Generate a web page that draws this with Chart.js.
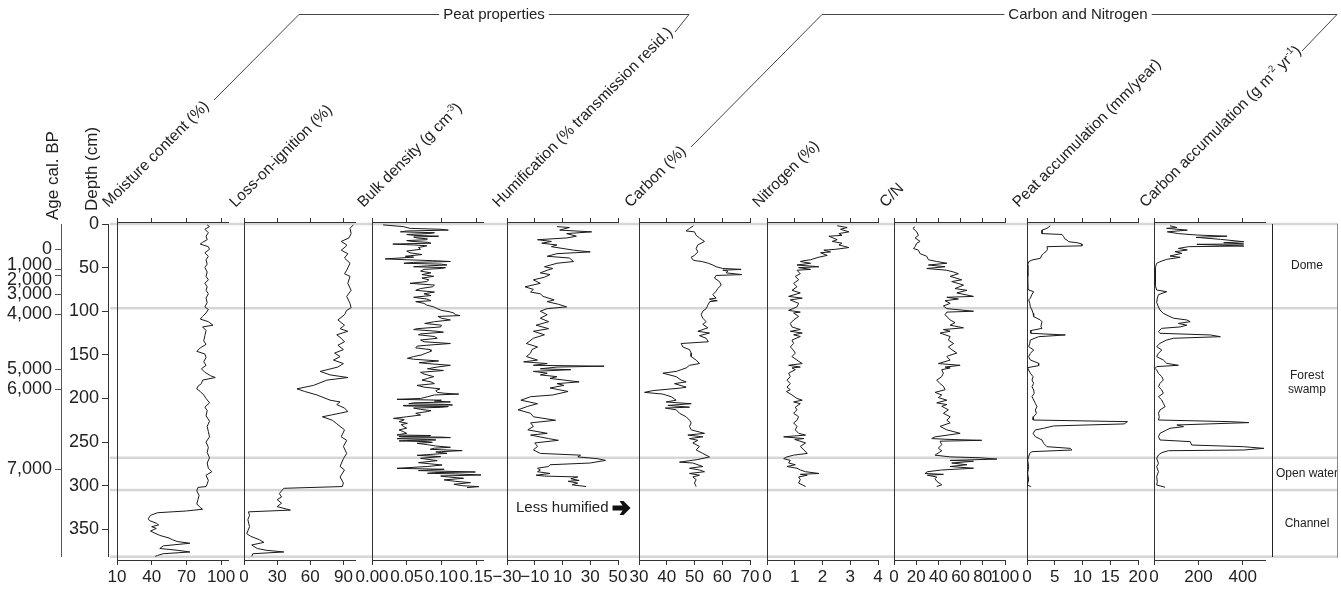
<!DOCTYPE html>
<html>
<head>
<meta charset="utf-8">
<script src="https://cdn.jsdelivr.net/npm/chart.js@4.4.0/dist/chart.umd.min.js"></script>
<style>
  html, body { margin: 0; padding: 0; background: #fff; }
  #wrap { position: relative; width: 1341px; height: 589px; overflow: hidden; background: #fff; }
  #wrap canvas { position: absolute; top: 0; }
</style>
</head>
<body>
<div id="wrap"></div>
<script>
// ---------------- data: [depth (cm), value] ----------------
const moistureData = [
  [1,88],[3,90],[6,86],[10,89],[14,87],[18,88],[21,84],[23,82],[26,89],[29,90],[33,86],[37,89],[41,87],[46,88],[50,86],[55,88],[60,87],[64,89],[68,86],[72,88],[76,87],[80,89],[85,87],[90,88],[95,86],[98,89],[102,87],[106,84],[109,82],[112,89],[116,93],[118,84],[122,87],[128,86],[134,85],[138,87],[142,82],[146,79],[149,86],[153,87],[158,85],[162,87],[166,83],[170,86],[174,91],[176,95],[179,84],[183,83],[186,80],[189,79],[192,82],[196,85],[200,87],[205,90],[210,86],[214,88],[220,87],[226,90],[232,88],[238,89],[244,90],[250,87],[256,89],[262,88],[268,90],[274,88],[280,89],[284,92],[288,87],[294,89],[298,88],[301,87],[302,80],[306,79],[311,81],[316,80],[321,79],[325,82],[327,84],[329,70],[331,45],[334,39],[338,37],[340,38],[343,44],[345,46],[347,40],[349,44],[352,39],[354,42],[357,47],[360,55],[362,58],[364,62],[366,73],[369,50],[372,47],[374,62],[376,73],[378,50],[380,45],[381,43]
];
const loiData = [
  [1,99],[5,96],[11,97],[16,95],[20,88],[24,93],[26,92],[30,88],[34,94],[39,91],[45,96],[53,93],[57,91],[60,96],[68,94],[76,97],[83,93],[91,96],[96,97],[99,93],[104,91],[110,85],[116,91],[120,87],[123,94],[127,84],[131,88],[135,91],[139,85],[144,90],[148,82],[152,87],[156,81],[160,90],[164,85],[169,69],[173,78],[176,94],[179,75],[185,63],[189,48],[192,55],[196,66],[202,78],[204,87],[207,84],[211,91],[215,94],[219,79],[221,71],[225,80],[229,84],[236,91],[244,88],[248,93],[255,90],[263,93],[269,90],[278,87],[282,91],[290,87],[297,90],[301,89],[303,36],[309,32],[313,34],[316,30],[320,34],[324,30],[328,42],[330,4],[334,5],[339,3.5],[347,5],[355,2.5],[358,6],[362,14],[365,18],[368,7],[372,12],[374,20],[376,36],[378,8],[381,7]
];
const bulkData = [
  [1,0.016],[3,0.045],[5,0.055],[6,0.098],[7,0.11],[8,0.05],[9,0.041],[10,0.09],[11,0.081],[12,0.05],[13,0.06],[14,0.096],[15,0.06],[16,0.065],[17,0.08],[18,0.079],[19,0.05],[20,0.058],[21,0.08],[22,0.085],[23,0.03],[24,0.06],[25,0.079],[27,0.067],[29,0.07],[31,0.05],[33,0.055],[35,0.072],[37,0.048],[38,0.06],[40,0.019],[41,0.05],[42,0.087],[43,0.113],[44,0.06],[45,0.046],[46,0.1],[47,0.108],[48,0.08],[49,0.06],[50,0.106],[51,0.1],[52,0.075],[54,0.07],[56,0.085],[58,0.072],[60,0.089],[62,0.072],[64,0.082],[66,0.079],[68,0.055],[70,0.09],[72,0.087],[74,0.07],[76,0.063],[78,0.09],[80,0.075],[82,0.085],[84,0.06],[86,0.079],[88,0.085],[89,0.063],[91,0.075],[93,0.079],[95,0.089],[97,0.094],[99,0.1],[100.5,0.111],[102,0.118],[104,0.12],[105,0.127],[106,0.095],[108,0.1],[110,0.113],[112,0.09],[114,0.076],[116,0.1],[118,0.099],[120,0.065],[121,0.06],[123,0.094],[124,0.103],[126,0.07],[127,0.067],[129,0.09],[131,0.094],[133,0.07],[135,0.075],[137,0.113],[139,0.079],[140,0.065],[142,0.063],[144,0.084],[146,0.085],[148,0.078],[150,0.072],[152,0.06],[154,0.051],[155,0.06],[157,0.096],[159,0.068],[160,0.08],[162,0.113],[164,0.094],[166,0.08],[168,0.103],[170,0.07],[172,0.075],[175,0.089],[177,0.08],[179,0.072],[181,0.085],[183,0.09],[185,0.065],[187,0.075],[189,0.098],[191,0.092],
  [193,0.094],[194,0.104],[195,0.125],[196,0.09],[198,0.08],[200,0.07],[201,0.036],[202,0.1],[203,0.09],[204,0.113],[205,0.06],[206,0.053],[206.8,0.105],[207.5,0.116],[208,0.045],[208.6,0.046],[209.3,0.11],[210.2,0.099],[211,0.06],[212.5,0.07],[214,0.085],[215,0.08],[217,0.063],[219,0.07],[221,0.05],[222.8,0.031],[224,0.045],[224.7,0.046],[226.6,0.039],[228.5,0.051],[230,0.042],[232.3,0.046],[234,0.05],[236.1,0.039],[238,0.045],[240,0.05],[241.2,0.04],[241.9,0.036],[242.5,0.084],[243,0.084],[243.5,0.04],[243.8,0.039],[244.3,0.1],[244.9,0.113],[245.5,0.045],[246.1,0.036],[247,0.08],[247.6,0.092],[248.2,0.05],[248.7,0.039],[249.5,0.08],[250.3,0.087],[251.4,0.065],[253,0.08],[254.5,0.092],[256,0.113],[257,0.09],[258.3,0.084],[259.8,0.13],[261,0.1],[261.4,0.092],[262.9,0.108],[265.2,0.065],[266.7,0.099],[268.6,0.07],[271.3,0.094],[273.6,0.067],[276.3,0.101],[278,0.08],[280.1,0.036],[281.2,0.104],[282.7,0.067],[284.3,0.149],[285,0.09],[285.8,0.08],[286.5,0.12],[287.7,0.157],[288.9,0.099],[290,0.11],[291.5,0.132],[293.4,0.104],[295,0.12],[296.5,0.142],[298.4,0.118],[300,0.13],[301.1,0.154],[302.2,0.137]
];
const humificationData = [
  [3,6],[4,15],[7,8],[9,31],[11,13],[14,20],[16,13],[18,-8],[20,2],[22,-5],[24,6],[26,2],[30,18],[32,30],[34,6],[37,-1],[39,15],[43,18],[45,6],[49,-3],[51,3],[53,-1],[56,-6],[58,1],[61,-3],[64,-11],[68,-6],[72,-17],[75,-11],[78,-13],[80,-6],[83,-4],[87,4],[89,-1],[92,7],[95,13],[97,-1],[100,-6],[104,-1],[108,-6],[112,0],[116,-9],[120,0],[123,-11],[127,-3],[131,-11],[137,-16],[141,-8],[144,-12],[148,-13],[152,-16],[156,-8],[158,-18],[160,-1],[162,-11],[163,40],[164,6],[166,-6],[167,16],[169,-11],[171,-1],[173,-6],[175,6],[177,1],[181,22],[183,6],[185,11],[188,1],[192,14],[196,3],[198,-13],[202,-20],[206,-8],[209,-15],[213,-22],[217,-13],[221,-11],[225,5],[228,-13],[232,-11],[236,-15],[240,-1],[242,-13],[246,0],[248,7],[251,-10],[255,-8],[259,-11],[263,-6],[265,23],[267,21],[269,35],[271,41],[274,30],[276,1],[278,0],[280,-8],[282,-6],[284,-8],[286,1],[288,-9],[289,-3],[290,21],[292,16],[294,22],[295,14],[297,21],[299,17],[301,27]
];
const carbonData = [
  [2,49.6],[5,48.2],[8,47],[9,50],[13,50.6],[16,51.8],[20,53.6],[24,51.2],[28,50.6],[32,51.2],[36,50],[38,48.8],[41,49.4],[42,50.2],[43,52.6],[45,55],[47,56.6],[49,57.8],[51,60.2],[52,66.8],[53,60.2],[54,62],[56,61.4],[58,67],[59,57.8],[62,57.2],[66,59],[70,59.6],[74,58.4],[77,57.8],[81,56.6],[85,57.8],[86,55.4],[87,56],[88,58.2],[89,55.5],[93,54.8],[97,54.2],[100,53],[104,52.4],[108,53],[112,54.2],[115,53],[119,54.8],[123,51.2],[125,55.4],[128,51.8],[131,54.2],[135,55],[137,45.2],[141,45.8],[144,48.2],[148,48.8],[152,48.8],[156,50.6],[160,51.8],[162,48.2],[165,47],[167,45.2],[169,43.4],[171,38.6],[175,43.4],[179,45.2],[181,47],[183,42.8],[187,47],[188,45.2],[191,35],[193,32],[195,38.6],[198,41.6],[202,43.4],[204,39.8],[206,48.8],[208,40.4],[210,48.2],[211,39.5],[213,43.4],[217,44.6],[221,47],[225,48.2],[228,48.8],[232,48.2],[236,48.8],[240,53.6],[242,47.6],[244,53],[246,48.2],[248,51.2],[251,49.4],[255,51.8],[259,50.6],[263,53],[267,55.4],[270,51.2],[273,44.6],[274,49.4],[278,53],[280,48.2],[282,51.8],[284,53.6],[286,48.2],[288,51.8],[290,49.4],[293,50.6],[297,50],[301,50.6]
];
const nitrogenData = [
  [2,2.53],[4,2.89],[6,2.65],[9,2.95],[11,2.59],[13,2.7],[14,2.23],[18,2.53],[20,2.35],[22,2.7],[24,2.59],[27,2.95],[29,2.47],[30,2.05],[32,2.29],[33,1.93],[36,2.17],[38,1.87],[41,1.57],[42,1.33],[43,1.2],[45,1.57],[47,1.08],[49,1.87],[50,1.14],[52,1.57],[53,1.08],[57,1.2],[60,1.02],[64,1.14],[68,0.96],[72,1.08],[76,0.9],[79,1.2],[83,0.78],[85,1.27],[87,0.84],[91,1.14],[95,1.08],[99,0.78],[101,1.2],[102,0.96],[106,1.14],[110,0.96],[114,0.84],[118,0.9],[121,1.2],[123,0.84],[125,1.27],[127,0.96],[129,1.2],[133,0.9],[137,0.96],[141,0.84],[144,0.94],[148,1.02],[152,0.9],[156,1.08],[160,1.27],[162,0.78],[164,1.2],[165,0.9],[167,1.02],[171,0.78],[175,0.84],[179,0.72],[183,0.84],[187,0.72],[190,0.84],[192,0.7],[196,0.9],[200,1.08],[202,1.27],[204,0.96],[206,1.2],[210,1.02],[213,1.08],[217,0.96],[221,1.14],[225,1.08],[228,0.96],[232,1.08],[236,1.02],[240,1.14],[242,1.39],[244,0.6],[246,1.33],[247,1.0],[251,1.39],[255,1.2],[259,1.33],[263,1.45],[265,0.96],[267,0.72],[269,0.6],[271,0.84],[274,0.78],[276,1.02],[278,0.72],[280,1.08],[282,1.2],[284,1.39],[286,1.87],[287,1.2],[288,1.45],[290,1.14],[293,1.2],[297,1.14],[299,1.27],[301,1.39]
];
const cnData = [
  [3,19],[5,17],[9,20.5],[13,22],[16,19],[20,23.5],[22,20.5],[26,19],[28,17.5],[30,22],[34,23.5],[37,29.5],[41,31],[43,38.5],[45,47.6],[47,31],[49,46],[51,29.5],[53,47.6],[55,53.6],[57,58],[60,50.6],[64,61],[66,52],[70,62.6],[74,55],[76,65.6],[79,56.6],[83,71.6],[84,47.6],[86,58],[88,46],[91,50.6],[94,44.5],[97,47.6],[100,71.6],[101,47.6],[104,46],[110,50.6],[113,55],[116,50.6],[119,62.6],[121,44.5],[123,50.6],[125,41.5],[129,50.6],[133,49],[137,53.6],[141,49],[144,52],[148,56.6],[151,49],[152,47.6],[156,50.6],[160,40],[162,59.6],[164,46],[165,50.6],[167,43],[171,44.5],[175,43],[179,38.5],[183,41.5],[186,44.5],[190,46],[193,37],[196,43],[199,40],[202,47.6],[205,38.5],[207,47.6],[209,43],[213,49],[217,44.5],[221,50.6],[225,47.6],[228,50.6],[232,41.5],[236,47.6],[240,59.6],[244,37],[246,34],[247,50.6],[248,79],[249,41.5],[253,43],[257,40],[260,43],[265,37],[267,50.6],[268,77.7],[269.5,92.7],[271,50.6],[272,71.6],[274,52],[276,65.6],[278,50.6],[280,71.6],[282,43],[284,30],[286,28],[287,44.5],[288,30],[290,38.5],[292,37],[295,38.5],[299,43],[301,38.5]
];
const peatAccData = [
  [2,4.2],[5,3.6],[7,2.7],[11,2.7],[12,6.3],[14.5,6.6],[17.6,6.9],[18.3,7.2],[20.3,7.5],[21.4,9],[23,9.9],[25,9.9],[26,3.6],[29,3.7],[31.7,3.4],[33.6,3],[35.5,2.7],[39.3,2.4],[41.3,0.9],[43.2,0.3],[47,0.12],[60,0.15],[75,0.2],[75.7,0.3],[77.6,1.2],[80.6,0.9],[85,0.6],[87,0.3],[91,0.5],[95,0.6],[98.6,0.9],[102.4,1.1],[106.2,1.2],[110,2.4],[112,2.7],[117.7,2.5],[119.6,2.7],[122.3,0.6],[125.3,0.7],[127.2,6.9],[129.2,2.1],[133,0.6],[136.8,0.5],[140.6,0.3],[144.4,1.2],[148.3,0.6],[152.1,0.3],[155.9,0.6],[159.7,2.1],[162.4,2.1],[164.7,0.1],[167.4,0.3],[171.2,0.6],[175,1.1],[178.8,0.9],[182.7,1.2],[186.5,0.9],[190.3,1.2],[194.1,1.3],[197.9,0.9],[201.8,1.2],[205.6,1.5],[209.4,1.8],[213.2,1.5],[217,1.7],[220.9,1.2],[224.7,1.1],[226.6,18.1],[229.2,17.5],[231.5,4.8],[234.2,3],[236.1,1.5],[240,1.1],[243.8,1.5],[247.6,2.7],[251.4,3],[255.3,3.6],[257.2,7.8],[259.1,8.1],[261,0.9],[262.9,0.5],[266.7,0.3],[270.5,0.12],[278.2,0.3],[285.8,0.12],[293.5,0.3],[299.2,0.05],[301.1,0.7]
];
const carbonAccData = [
  [2,72],[4,103],[5,57],[7,150],[9,60],[11,110],[12.6,190],[14,329],[15.3,190],[17.6,299],[20.3,404],[21.4,314],[22.9,404],[23.3,193],[25.2,404],[26,155],[28,110],[29.8,150],[31.7,95],[33.6,125],[36.7,72],[38.2,118],[40.5,57],[43.2,27],[45.1,12],[50,6],[60,5],[70,6],[75.7,12],[77.6,57],[81,20],[85,15],[90,12],[95,20],[98.6,27],[102.4,42],[106.2,72],[108,88],[110,148],[112,163],[114,110],[116,148],[118,118],[119.6,35],[121.5,27],[123.4,20],[125.3,27],[127.2,254],[129.2,299],[131,88],[133,57],[136.8,27],[140.6,12],[144.4,35],[148.3,20],[152.1,12],[155.9,42],[159.7,57],[162,110],[163.5,12],[165.5,5],[167.4,12],[171.2,20],[175,35],[178.8,42],[182.7,27],[186.5,20],[190.3,35],[194.1,42],[198,20],[201.8,35],[205.6,42],[209.4,50],[213.2,27],[217,20],[220.9,24],[224.7,20],[226.6,344],[227.7,427],[228.5,329],[230.4,103],[232.3,133],[234.2,72],[236.1,57],[240,27],[243.8,20],[247.6,27],[249.5,163],[253.4,170],[255.3,404],[257.2,495],[259.1,404],[259.9,65],[262.1,35],[264.8,20],[268.6,12],[274.4,20],[278.2,12],[284,20],[289.6,12],[295.4,15],[299.2,12],[301.8,50]
];

// ---------------- axis ticks and labels ----------------
const moistureTicks = [10, 40, 70, 100];
const loiTicks = [0, 30, 60, 90];
const bulkTicks = [0, 0.05, 0.10, 0.15];
const bulkTickLabels = ['0.00', '0.05', '0.10', '0.15'];
const humificationTicks = [-30, -10, 10, 30, 50];
const humificationTickLabels = ['\u221230', '\u221210', '10', '30', '50'];
const carbonTicks = [30, 40, 50, 60, 70];
const nitrogenTicks = [0, 1, 2, 3, 4];
const cnTicks = [0, 20, 40, 60, 80, 100];
const peatAccTicks = [0, 5, 10, 15, 20];
const carbonAccTicks = [0, 200, 400];

const depthTicks = [0, 50, 100, 150, 200, 250, 300, 350];
const ageLabels = ['0', '1,000', '2,000', '3,000', '4,000', '5,000', '6,000', '7,000'];
const ageDepths = [29, 52.7, 59.3, 80.6, 103.2, 166.6, 189.5, 281.2];

const zoneNames = ['Dome', ['Forest', 'swamp'], 'Open water', 'Channel'];
const zoneBounds = [0, 96.5, 268, 305, 381.4];

const panelTitles = [
  'Moisture content (%)', 'Loss-on-ignition (%)', 'Bulk density (g cm^{-3})',
  'Humification (% transmission resid.)', 'Carbon (%)', 'Nitrogen (%)', 'C/N',
  'Peat accumulation (mm/year)', 'Carbon accumulation (g m^{-2} yr^{-1})'
];
const groupTitles = ['Peat properties', 'Carbon and Nitrogen'];
const ageTitle = 'Age cal. BP';
const depthTitle = 'Depth (cm)';
const humificationNote = 'Less humified';

// ---------------- panel definitions ----------------
const panels = [
  { data: moistureData, min: 10, max: 106, ticks: moistureTicks, labels: moistureTicks.map(String) },
  { data: loiData, min: 0, max: 100.5, ticks: loiTicks, labels: loiTicks.map(String) },
  { data: bulkData, min: 0, max: 0.16, ticks: bulkTicks, labels: bulkTickLabels },
  { data: humificationData, min: -30, max: 50, ticks: humificationTicks, labels: humificationTickLabels },
  { data: carbonData, min: 30, max: 70, ticks: carbonTicks, labels: carbonTicks.map(String) },
  { data: nitrogenData, min: 0, max: 4, ticks: nitrogenTicks, labels: nitrogenTicks.map(String) },
  { data: cnData, min: 0, max: 100, ticks: cnTicks, labels: cnTicks.map(String) },
  { data: peatAccData, min: 0, max: 20, ticks: peatAccTicks, labels: peatAccTicks.map(String) },
  { data: carbonAccData, min: 0, max: 500, ticks: carbonAccTicks, labels: carbonAccTicks.map(String) }
];

// ---------------- layout ----------------
const W = 1341, H = 589;
const FONT = "'Liberation Sans', Arial, Helvetica, sans-serif";
const PANEL_LEFT = [117, 244, 372, 507, 639, 767, 894, 1027, 1154];
const PANEL_W = 111;
const PAD = 30;
const PLOT_TOP = 222, PLOT_BOTTOM = 560;
const DEPTH_MIN = -2.3, DEPTH_MAX = 385.2;
const INK = '#1a1a1a';

Chart.defaults.font.family = FONT;
Chart.defaults.color = '#222';

const wrap = document.getElementById('wrap');
function addCanvas(left, width) {
  const c = document.createElement('canvas');
  c.width = width; c.height = H;
  c.style.left = left + 'px';
  c.style.width = width + 'px';
  c.style.height = H + 'px';
  wrap.appendChild(c);
  return c;
}

// rich text with ^{...} superscripts
function drawRich(ctx, text, x, y, size) {
  const parts = text.split(/\^\{([^}]*)\}/);
  let cx = x;
  parts.forEach((t, k) => {
    if (!t) return;
    const sup = k % 2 === 1;
    ctx.font = (sup ? size * 0.62 : size) + 'px ' + FONT;
    ctx.fillText(t, cx, sup ? y - size * 0.4 : y);
    cx += ctx.measureText(t).width;
  });
  return cx - x;
}

// ---------------- background chart: depth/age axes, zones, titles ----------------
const decor = {
  id: 'decor',
  beforeDraw(chart) {
    const { ctx, chartArea } = chart;
    const ys = chart.scales.depth;
    const xEnd = chart.scales.zone.right - 1;
    ctx.save();
    ctx.fillStyle = '#d6d6d6';
    zoneBounds.forEach(b => {
      const y = ys.getPixelForValue(b);
      ctx.fillRect(chartArea.left + 2, y - 1.25, xEnd - chartArea.left - 2, 2.5);
    });
    ctx.restore();
  },
  afterDraw(chart) {
    const { ctx } = chart;
    const zone = chart.scales.zone;
    ctx.save();
    // right edge of zone column
    ctx.strokeStyle = '#8a8a8a';
    ctx.lineWidth = 1;
    ctx.beginPath();
    ctx.moveTo(zone.right - 1.5, zone.top);
    ctx.lineTo(zone.right - 1.5, zone.bottom + 1);
    ctx.stroke();

    // age labels, spread apart where ticks crowd
    const age = chart.scales.age;
    const pos = ageDepths.map(d => age.getPixelForValue(d));
    const gap = 14.5;
    for (let it = 0; it < 80; it++) {
      for (let i = 1; i < pos.length; i++) {
        const o = gap - (pos[i] - pos[i - 1]);
        if (o > 0) { pos[i - 1] -= o / 2; pos[i] += o / 2; }
      }
    }
    ctx.fillStyle = '#222';
    ctx.font = '18px ' + FONT;
    ctx.textAlign = 'right';
    ctx.textBaseline = 'middle';
    pos.forEach((y, i) => ctx.fillText(ageLabels[i], age.right - 9, y));

    // vertical axis titles
    ctx.textAlign = 'left';
    ctx.textBaseline = 'alphabetic';
    ctx.font = '17px ' + FONT;
    ctx.save(); ctx.translate(57.5, 220); ctx.rotate(-Math.PI / 2); ctx.fillText(ageTitle, 0, 0); ctx.restore();
    ctx.save(); ctx.translate(96.5, 211); ctx.rotate(-Math.PI / 2); ctx.fillText(depthTitle, 0, 0); ctx.restore();

    // slanted panel titles
    panelTitles.forEach((t, i) => {
      ctx.save();
      ctx.translate(PANEL_LEFT[i] - 8.5, 208);
      ctx.rotate(-Math.PI / 4);
      drawRich(ctx, t, 0, 0, 15.5);
      ctx.restore();
    });

    // group brackets
    const brackets = [
      { text: groupTitles[0], cx: 494, left: [[214, 100], [299, 14.5]], right: [[689, 14.5], [675, 32]] },
      { text: groupTitles[1], cx: 1078, left: [[691, 147], [822, 14.5]], right: [[1337, 14.5], [1302, 51]] }
    ];
    ctx.font = '15px ' + FONT;
    ctx.textAlign = 'center';
    ctx.textBaseline = 'middle';
    ctx.strokeStyle = '#444';
    ctx.lineWidth = 1;
    brackets.forEach(b => {
      const w = ctx.measureText(b.text).width;
      ctx.fillText(b.text, b.cx, 15);
      ctx.beginPath();
      ctx.moveTo(b.left[0][0], b.left[0][1]);
      ctx.lineTo(b.left[1][0], b.left[1][1]);
      ctx.lineTo(b.cx - w / 2 - 4, 14.5);
      ctx.moveTo(b.cx + w / 2 + 4, 14.5);
      ctx.lineTo(b.right[0][0], b.right[0][1]);
      ctx.lineTo(b.right[1][0], b.right[1][1]);
      ctx.stroke();
    });

    // humification direction note
    const nx = PANEL_LEFT[3] + 9, ny = 508;
    ctx.font = '15px ' + FONT;
    ctx.textAlign = 'left';
    ctx.fillText(humificationNote, nx, ny);
    const ax = nx + ctx.measureText(humificationNote).width + 4;
    ctx.fillStyle = '#111';
    ctx.beginPath();
    ctx.moveTo(ax, ny - 2.5);
    ctx.lineTo(ax + 10, ny - 2.5);
    ctx.lineTo(ax + 7, ny - 7);
    ctx.lineTo(ax + 11, ny - 7);
    ctx.lineTo(ax + 18, ny);
    ctx.lineTo(ax + 11, ny + 7);
    ctx.lineTo(ax + 7, ny + 7);
    ctx.lineTo(ax + 10, ny + 2.5);
    ctx.lineTo(ax, ny + 2.5);
    ctx.closePath();
    ctx.fill();
    ctx.restore();
  }
};

const bgCanvas = addCanvas(0, W);
new Chart(bgCanvas, {
  type: 'line',
  data: { datasets: [] },
  options: {
    responsive: false, animation: false, devicePixelRatio: 1,
    layout: { padding: { left: 0, right: 2, top: 224, bottom: H - 556.7 } },
    plugins: { legend: { display: false }, tooltip: { enabled: false } },
    scales: {
      x: { type: 'linear', display: false, min: 0, max: 1 },
      depth: {
        type: 'linear', position: 'left', reverse: true, min: 0, max: zoneBounds[zoneBounds.length - 1], weight: 0,
        afterBuildTicks: s => { s.ticks = depthTicks.map(v => ({ value: v })); },
        ticks: { font: { size: 18 }, color: '#222', padding: 3, autoSkip: false },
        grid: { drawOnChartArea: false, tickLength: 6, tickColor: '#333' },
        border: { color: '#333' },
        afterFit: s => { s.width = 47; }
      },
      age: {
        type: 'linear', position: 'left', reverse: true, min: 0, max: zoneBounds[zoneBounds.length - 1], weight: 10,
        afterBuildTicks: s => { s.ticks = ageDepths.map(v => ({ value: v })); },
        ticks: { display: false },
        grid: { drawOnChartArea: false, tickLength: 6, tickColor: '#555' },
        border: { color: '#555' },
        afterFit: s => { s.width = 61; }
      },
      zone: {
        type: 'linear', position: 'right', reverse: true, min: 0, max: zoneBounds[zoneBounds.length - 1],
        afterBuildTicks: s => {
          s.ticks = zoneNames.map((n, i) => ({ value: (zoneBounds[i] + zoneBounds[i + 1]) / 2 }));
        },
        ticks: { callback: (v, k) => zoneNames[k], crossAlign: 'center', padding: 4, font: { size: 12 }, color: '#222', autoSkip: false },
        grid: { drawOnChartArea: false, drawTicks: false },
        border: { color: '#222' },
        afterFit: s => { s.width = 67; }
      }
    }
  },
  plugins: [decor]
});

// ---------------- one chart per panel ----------------
panels.forEach((p, i) => {
  const canvas = addCanvas(PANEL_LEFT[i] - PAD, PANEL_W + 2 * PAD);
  const setTicks = s => { s.ticks = p.ticks.map(v => ({ value: v })); };
  new Chart(canvas, {
    type: 'line',
    data: {
      datasets: [{
        data: p.data.map(([d, v]) => ({ x: v, y: d })),
        borderColor: INK, borderWidth: 1, pointRadius: 0, tension: 0, fill: false,
        borderJoinStyle: 'round', xAxisID: 'x', yAxisID: 'y'
      }]
    },
    options: {
      indexAxis: 'y',
      responsive: false, animation: false, devicePixelRatio: 1,
      layout: { padding: { left: PAD, right: PAD, top: PLOT_TOP - 4, bottom: 0 } },
      plugins: { legend: { display: false }, tooltip: { enabled: false } },
      scales: {
        x: {
          type: 'linear', position: 'bottom', min: p.min, max: p.max, bounds: 'data',
          afterBuildTicks: setTicks,
          ticks: { callback: (v, k) => p.labels[k], autoSkip: false, maxRotation: 0, minRotation: 0, font: { size: 17 }, color: '#222', padding: 2 },
          grid: { drawOnChartArea: false, tickLength: 5, tickColor: '#333' },
          border: { color: '#333' },
          afterFit: s => { s.height = H - PLOT_BOTTOM; }
        },
        xTop: {
          type: 'linear', position: 'top', min: p.min, max: p.max, bounds: 'data',
          afterBuildTicks: setTicks,
          ticks: { display: false },
          grid: { drawOnChartArea: false, tickLength: 4, tickColor: '#333' },
          border: { color: '#333' },
          afterFit: s => { s.height = 4; }
        },
        y: {
          type: 'linear', position: 'left', reverse: true, min: DEPTH_MIN, max: DEPTH_MAX,
          ticks: { display: false },
          grid: { drawOnChartArea: false, drawTicks: false },
          border: { color: '#333' },
          afterFit: s => { s.width = 0; }
        }
      }
    }
  });
});
</script>
</body>
</html>
